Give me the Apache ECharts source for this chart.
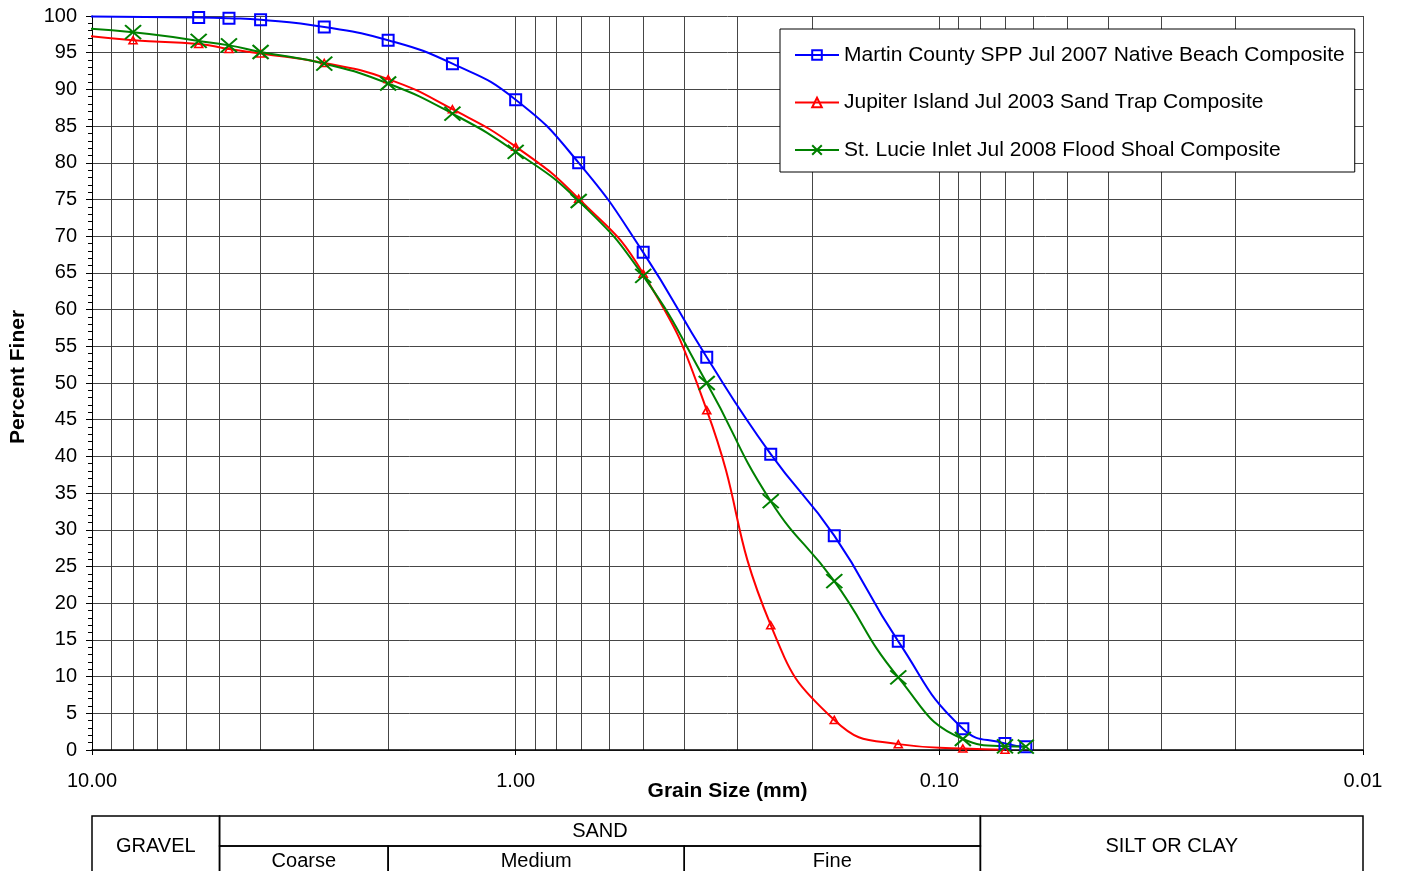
<!DOCTYPE html>
<html>
<head>
<meta charset="utf-8">
<title>Grain Size Distribution</title>
<script src="https://cdn.jsdelivr.net/npm/echarts@6/dist/echarts.min.js"></script>
<style>
    html, body { margin: 0; padding: 0; background: #fff; }
    #chart { width: 1401px; height: 871px; }
</style>
</head>
<body>
<div id="chart"></div>
<script>
// sieve sizes in mm (the first one sits just past the left end of the axis)
const sizes = [12.5, 8, 5.6, 4.75, 4, 2.83, 2, 1.41, 1, 0.71, 0.5, 0.354, 0.25, 0.177, 0.125, 0.088, 0.07, 0.0625];

// percent finer for each sample, null where the sieve was not used
const martinCounty = [100, null, 99.8, 99.7, 99.5, 98.5, 96.7, 93.5, 88.6, 80.0, 67.8, 53.5, 40.3, 29.2, 14.8, 2.9, 0.9, 0.45];
const jupiterIsland = [97.9, 96.7, 96.2, 95.5, 94.9, 93.6, 91.4, 87.3, 82.2, 75.1, 64.9, 46.3, 17.0, 4.1, 0.8, 0.2, 0.05, null];
const stLucieInlet = [98.5, 97.8, 96.6, 96.0, 95.1, 93.5, 90.8, 86.7, 81.5, 74.8, 64.6, 50.0, 33.9, 23.0, 9.9, 1.5, 0.5, 0.45];

const seriesNames = [
    'Martin County SPP Jul 2007 Native Beach Composite',
    'Jupiter Island Jul 2003 Sand Trap Composite',
    'St. Lucie Inlet Jul 2008 Flood Shoal Composite'
];

// soil classification table under the chart (sizes in mm, rows of 30px units)
const tableLabels = ['GRAVEL', 'SAND', 'Coarse', 'Medium', 'Fine', 'SILT OR CLAY'];
const tableFrom = [10, 5, 5, 2, 0.4, 0.08];
const tableTo = [5, 0.08, 2, 0.4, 0.08, 0.01];
const tableRowFrom = [0, 0, 1, 1, 1, 0];
const tableRowTo = [2, 1, 2, 2, 2, 2];

const FONT = "'Liberation Sans', Arial, sans-serif";
const gridColor = '#464646';

function toPairs(values) {
    const out = [];
    values.forEach((v, i) => {
        if (v !== null) out.push([sizes[i], v]);
    });
    return out;
}

const tableData = tableLabels.map((t, i) => [tableFrom[i], tableTo[i], tableRowFrom[i], tableRowTo[i]]);

let chart = echarts.init(document.getElementById('chart'));

const option = {
    animation: false,
    color: ['#0000ff', '#ff0000', '#008000'],
    textStyle: { fontFamily: FONT },
    grid: [
        { left: 92, right: 38, top: 16, bottom: 121 },
        { left: 92, right: 38, top: 816, bottom: 0 }   // 55px high -> 1.833 rows
    ],
    legend: {
        orient: 'vertical',
        left: 780,
        top: 29,
        padding: [15.5, 10, 11.5, 14],
        itemGap: 26.5,
        itemWidth: 44,
        itemHeight: 12,
        backgroundColor: '#fff',
        borderColor: '#000',
        borderWidth: 1,
        selectedMode: false,
        textStyle: { fontSize: 21, color: '#000', fontFamily: FONT, lineHeight: 21 },
        data: seriesNames
    },
    xAxis: [
        {
            type: 'log',
            logBase: 10,
            min: 0.01,
            max: 10,
            inverse: true,
            gridIndex: 0,
            name: 'Grain Size (mm)',
            nameLocation: 'middle',
            nameGap: 31,
            nameMoveOverlap: false,
            nameTextStyle: { fontSize: 21, fontWeight: 'bold', color: '#000', fontFamily: FONT },
            axisLine: { lineStyle: { color: '#000', width: 1.5 } },
            axisTick: { show: true, length: 5, lineStyle: { color: '#000' } },
            axisLabel: {
                fontSize: 20,
                color: '#000',
                margin: 21,
                formatter: v => v.toFixed(2)
            },
            splitLine: { show: true, lineStyle: { color: gridColor, width: 1 } },
            minorTick: { show: false, splitNumber: 9 },
            minorSplitLine: { show: true, lineStyle: { color: gridColor, width: 1 } }
        },
        {
            type: 'log',
            min: 0.01,
            max: 10,
            inverse: true,
            gridIndex: 1,
            show: false
        }
    ],
    yAxis: [
        {
            type: 'value',
            min: 0,
            max: 100,
            interval: 5,
            gridIndex: 0,
            name: 'Percent Finer',
            nameLocation: 'middle',
            nameGap: 63,
            nameMoveOverlap: false,
            nameTextStyle: { fontSize: 21, fontWeight: 'bold', color: '#000', fontFamily: FONT, padding: [0, 0, 0, 12] },
            axisLine: { show: true, lineStyle: { color: '#000', width: 1 } },
            axisTick: { show: true, length: 6, lineStyle: { color: '#000' } },
            minorTick: { show: true, splitNumber: 5, length: 4, lineStyle: { color: '#000' } },
            axisLabel: { fontSize: 20, color: '#000', margin: 15 },
            splitLine: { show: true, lineStyle: { color: gridColor, width: 1 } }
        },
        {
            type: 'value',
            min: 0,
            max: 55 / 30,
            inverse: true,
            gridIndex: 1,
            show: false
        }
    ],
    series: [
        {
            name: seriesNames[0],
            type: 'line',
            data: toPairs(martinCounty),
            smooth: true,
            showAllSymbol: true,
            symbol: 'rect',
            symbolSize: 11,
            lineStyle: { color: '#0000ff', width: 2 },
            itemStyle: { color: 'rgba(255,255,255,0)', borderColor: '#0000ff', borderWidth: 2 },
            emphasis: { disabled: true }
        },
        {
            name: seriesNames[1],
            type: 'line',
            data: toPairs(jupiterIsland),
            smooth: true,
            showAllSymbol: true,
            symbol: 'triangle',
            symbolSize: [8, 7],
            lineStyle: { color: '#ff0000', width: 2 },
            itemStyle: { color: 'rgba(255,255,255,0)', borderColor: '#ff0000', borderWidth: 1.6 },
            emphasis: { disabled: true }
        },
        {
            name: seriesNames[2],
            type: 'line',
            data: toPairs(stLucieInlet),
            smooth: true,
            showAllSymbol: true,
            symbol: 'path://M0,0L16,14M16,0L0,14',
            symbolSize: [16, 14],
            lineStyle: { color: '#008000', width: 2 },
            itemStyle: { color: 'rgba(255,255,255,0)', borderColor: '#008000', borderWidth: 2 },
            emphasis: { disabled: true }
        },
        {
            // classification table, drawn on the second grid so the columns follow the log scale
            type: 'custom',
            xAxisIndex: 1,
            yAxisIndex: 1,
            silent: true,
            data: tableData,
            encode: { x: [0, 1], y: [2, 3] },
            renderItem: function (params, api) {
                const p0 = api.coord([api.value(0), api.value(2)]);
                const p1 = api.coord([api.value(1), api.value(3)]);
                return {
                    type: 'group',
                    children: [
                        {
                            type: 'rect',
                            shape: { x: p0[0], y: p0[1], width: p1[0] - p0[0], height: p1[1] - p0[1] },
                            style: { fill: 'none', stroke: '#000', lineWidth: 1.5 }
                        },
                        {
                            type: 'text',
                            x: (p0[0] + p1[0]) / 2,
                            y: (p0[1] + p1[1]) / 2,
                            style: {
                                text: tableLabels[params.dataIndex],
                                align: 'center',
                                verticalAlign: 'middle',
                                fill: '#000',
                                font: '20px ' + FONT
                            }
                        }
                    ]
                };
            }
        }
    ]
};

chart.setOption(option);
</script>
</body>
</html>
